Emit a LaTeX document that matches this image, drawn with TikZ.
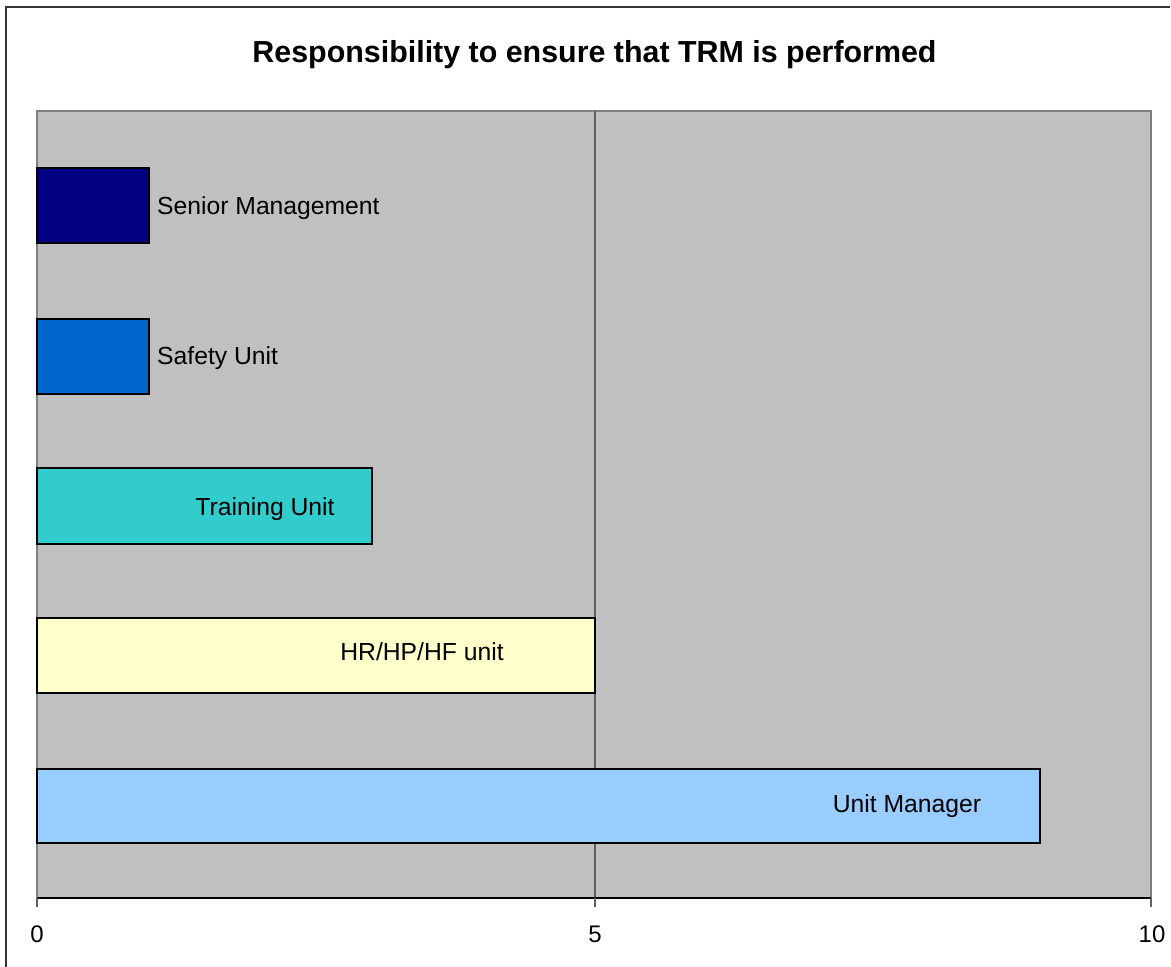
\documentclass[tikz,border=0pt]{standalone}
\usepackage{fontspec}
\setmainfont{Liberation Sans}
\definecolor{plotbg}{HTML}{C0C0C0}
\definecolor{plotedge}{HTML}{808080}
\definecolor{gridc}{HTML}{606060}
\definecolor{framec}{HTML}{333333}
\definecolor{cSenior}{HTML}{000080}
\definecolor{cSafety}{HTML}{0066CC}
\definecolor{cTraining}{HTML}{33CCCC}
\definecolor{cHR}{HTML}{FFFFCC}
\definecolor{cUnit}{HTML}{99CCFF}
\begin{document}
\begin{tikzpicture}[x=1pt,y=-1pt,
  barbox/.style={draw=black,line width=1.2pt},
  lbl/.style={inner sep=0pt,font=\fontsize{24.7}{30}\selectfont},
  ticklbl/.style={anchor=base,inner sep=0pt,font=\fontsize{24}{28}\selectfont},
  tickmark/.style={draw=gridc,line width=1.2pt}]
\useasboundingbox (0,0) rectangle (1171,967);
\fill[white] (0,0) rectangle (1171,967);
% outer frame
\draw[framec,line width=1.3pt] (6,967) -- (6,7) -- (1170,7);
% title
\node[anchor=base,inner sep=0pt,font=\fontsize{30.4}{35}\selectfont\bfseries] (title) at (594.5,62) {Responsibility to ensure that TRM is performed};
% plot area
\filldraw[fill=plotbg,draw=plotedge,line width=1.2pt] (37,111) rectangle (1151,898);
\draw[gridc,line width=1.2pt] (595,111) -- (595,898);
% bars
\filldraw[barbox,fill=cSenior] (37,168) rectangle (149,243);
\filldraw[barbox,fill=cSafety] (37,319) rectangle (149,394);
\filldraw[barbox,fill=cTraining] (37,468) rectangle (372,544);
\filldraw[barbox,fill=cHR] (37,618) rectangle (595,693);
\filldraw[barbox,fill=cUnit] (37,769) rectangle (1040,843);
% bar labels
\node[lbl,anchor=base west] (lSenior) at (157,214) {Senior Management};
\node[lbl,anchor=base west] (lSafety) at (157,364) {Safety Unit};
\node[lbl,anchor=base] (lTraining) at (265,515) {Training Unit};
\node[lbl,anchor=base] (lHR) at (422,660) {HR/HP/HF unit};
\node[lbl,anchor=base] (lUnit) at (907,812) {Unit Manager};
% axis
\draw[black,line width=1.3pt] (37,898) -- (1151,898);
\draw[tickmark] (37,898) -- (37,907);
\draw[tickmark] (595,898) -- (595,907);
\draw[tickmark] (1151,898) -- (1151,907);
\node[ticklbl] (t0) at (37,942) {0};
\node[ticklbl] (t5) at (595,942) {5};
\node[ticklbl] (t10) at (1152,942) {10};
\end{tikzpicture}
\end{document}
